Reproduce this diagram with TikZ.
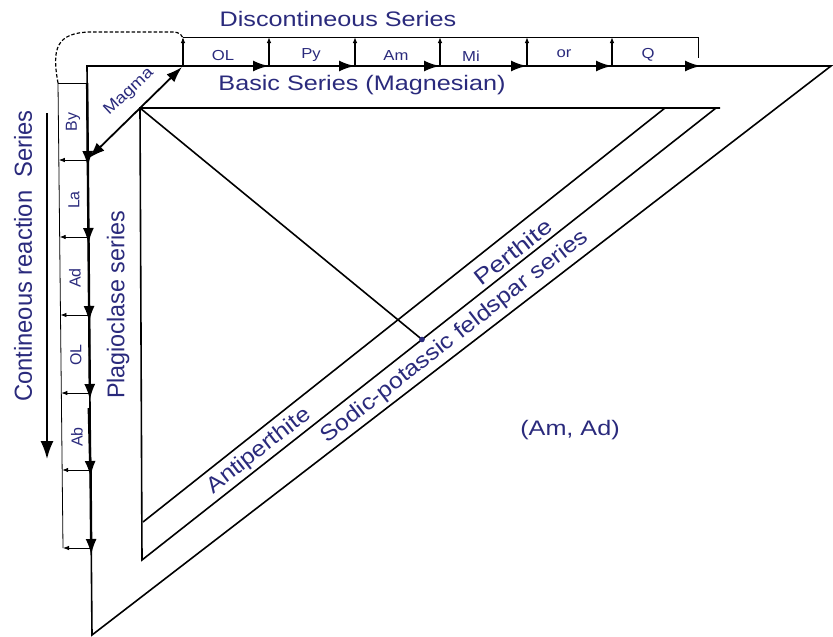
\documentclass[tikz,border=0pt]{standalone}
\usepackage{fontspec}
\setmainfont{Liberation Sans}
\usetikzlibrary{arrows.meta}
\definecolor{navy}{HTML}{2A2A7C}
\begin{document}
\begin{tikzpicture}[x=1pt,y=-1pt,
  tri/.style={line width=1.6pt},
  thinl/.style={line width=0.8pt},
  boldarr/.style={line width=2.4pt,-{Latex[length=16pt,width=11pt]}},
  sep/.style={line width=0.8pt,-{Latex[length=6pt,width=4.5pt]}},
  upsep/.style={line width=1.1pt,-{Latex[length=6pt,width=4.5pt]}},
  big/.style={text=navy,font=\fontsize{21}{21}\selectfont,inner sep=0pt},
  small/.style={text=navy,font=\fontsize{14.5}{14.5}\selectfont,inner sep=0pt},
]
\useasboundingbox (0,0) rectangle (833,637);
% outer triangle
\coordinate (O1) at (87,66);
\coordinate (O2) at (831,66);
\coordinate (O3) at (92,635);
\draw[tri,line join=miter] (O2) -- (O1) -- (O3) -- cycle;
% middle triangle
\coordinate (M1) at (140,108);
\coordinate (M2) at (720,108);
\coordinate (M2h) at (716,108);
\coordinate (M3) at (142,560);
\draw[tri] (M2) -- (M1) -- (M3) -- (M2h);
% inner line
\coordinate (I1) at (665,108);
\coordinate (I2) at (143,522);
\draw[tri] (I1) -- (I2);
% diagonal to dot
\coordinate (D) at (422,339.5);
\draw[tri] (M1) -- (D);
\fill[navy] (D) circle (2.8);

% discontinuous series boxes
\foreach \i/\x in {0/183,1/269,2/355,3/440,4/527,5/612,6/698}{
  \coordinate (b\i) at (\x,66);
  \coordinate (t\i) at (\x,37);
}
\coordinate (b6e) at (701,66);
\coordinate (t6d) at (698,58);
\draw[thinl] (t0) -- (t6) -- (t6d);
\foreach \i/\j in {0/1,1/2,2/3,3/4,4/5}{
  \draw[upsep] (b\i) -- (t\i);
  \draw[boldarr] (b\i) -- (b\j);
}
\draw[upsep] (b5) -- (t5);
\draw[boldarr] (b5) -- (b6e);
\node[small] (lOL) at (223,56) {\scalebox{1.15}[1]{OL}};
\node[small] (lPy) at (311,55) {\scalebox{1.15}[1]{Py}};
\node[small] (lAm) at (396,56) {\scalebox{1.15}[1]{Am}};
\node[small] (lMi) at (471,56) {\scalebox{1.15}[1]{Mi}};
\node[small] (lor) at (564,54) {\scalebox{1.15}[1]{or}};
\node[small] (lQ) at (648,55) {\scalebox{1.15}[1]{Q}};

% dashed return
\coordinate (C0) at (58,83);
\coordinate (C0m) at (87.15,83);
\coordinate (Dend) at (183,41);
\draw[line width=1.2pt,dash pattern=on 3.5pt off 2pt]
  (C0) .. controls (52,50) and (55,32) .. (92,32) -- (172,32)
  .. controls (180,32) and (183,35) .. (Dend);
\draw[thinl] (C0m) -- (C0);

% continuous reaction column
\coordinate (Cb) at (63,548);
\draw[thinl] (C0) -- (Cb);
\foreach \i/\y in {1/160,2/237,3/315,4/393,5/470,6/548}{
  \pgfmathsetmacro{\xm}{87+(\y-66)*5/569}
  \pgfmathsetmacro{\xt}{58+(\y-83)*5/465}
  \coordinate (m\i) at (\xm,\y);
  \coordinate (s\i) at (\xt,\y);
  \coordinate (a\i) at (\xm,\y+7);
  \draw[sep] (m\i) -- (s\i);
}
\coordinate (a0) at (87.15,83);
\coordinate (a4s) at (88.8,408);
\draw[boldarr] (a0) -- (a1);
\draw[boldarr] (m1) -- (a2);
\draw[boldarr] (m2) -- (a3);
\draw[boldarr] (m3) -- (a4);
\draw[boldarr] (a4s) -- (a5);
\draw[boldarr] (m5) -- (a6);
\node[small,rotate=90] (lBy) at (73,122) {\scalebox{1.1}[1.1]{By}};
\node[small,rotate=90] (lLa) at (74,200) {\scalebox{1.1}[1.1]{La}};
\node[small,rotate=90] (lAd) at (75,278) {\scalebox{1.1}[1.1]{Ad}};
\node[small,rotate=90] (lOL2) at (76,355) {\scalebox{1.1}[1.1]{OL}};
\node[small,rotate=90] (lAb) at (77,437) {\scalebox{1.1}[1.1]{Ab}};

% magma arrow
\coordinate (Ma) at (89,158);
\coordinate (Mb) at (182,67);
\draw[line width=1.8pt,{Latex[length=16pt,width=11pt]}-{Latex[length=16pt,width=11pt]}] (Ma) -- (Mb);
\node[big,font=\fontsize{16}{16}\selectfont,rotate=43] (lMagma) at (129,92) {\scalebox{1.15}[1]{Magma}};

% big left arrow
\coordinate (La) at (47,113);
\coordinate (Lb) at (47,459);
\draw[line width=1.8pt,-{Latex[length=18pt,width=13pt]}] (La) -- (Lb);

% titles
\node[big] (tDisc) at (338,19) {\scalebox{1.2}[1]{Discontineous Series}};
\node[big] (tBasic) at (362,85) {\scalebox{1.2}[1]{Basic Series (Magnesian)}};
\node[big,rotate=90] (tCont) at (23,256) {\scalebox{1.08}[1.12]{\fontsize{22}{22}\selectfont Contineous reaction\ \ Series}};
\node[big,rotate=90] (tPlag) at (118,305) {\scalebox{1.06}[1.1]{\fontsize{22}{22}\selectfont Plagioclase series}};
\node[big,rotate=38] (tPer) at (513,252) {\scalebox{1.28}[1.05]{Perthite}};
\node[big,rotate=38] (tAnti) at (259,451) {\scalebox{1.18}[1.05]{Antiperthite}};
\node[big,rotate=38] (tSod) at (455,337) {\scalebox{1.19}[1.05]{Sodic-potassic feldspar series}};
\node[big] (tAm) at (570,430) {\scalebox{1.2}[1]{(Am, Ad)}};
\end{tikzpicture}
\end{document}
